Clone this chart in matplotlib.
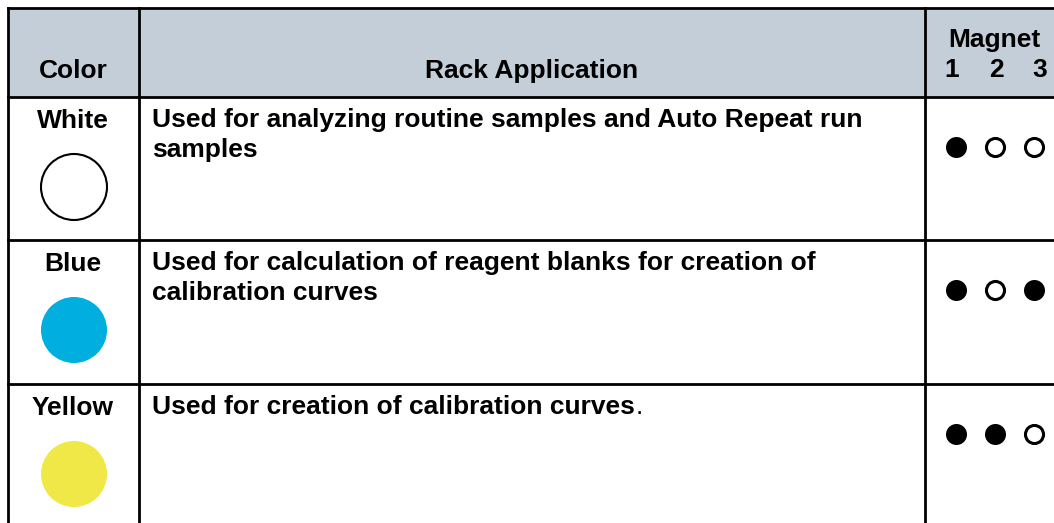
import matplotlib.pyplot as plt
from matplotlib import font_manager
from matplotlib.patches import Circle, Rectangle

W, H = 1054, 523
INK = "#000000"
HEADER_BG = "#C4CED9"

colors = ["White", "Blue", "Yellow"]
swatches = ["#FFFFFF", "#00AEDF", "#F0E846"]
applications = [
    ["Used for analyzing routine samples and Auto Repeat run", "samples"],
    ["Used for calculation of reagent blanks for creation of", "calibration curves"],
    ["Used for creation of calibration curves"],
]
# 1 = filled magnet, 0 = empty
magnets = [[1, 0, 0], [1, 0, 1], [1, 1, 0]]
magnet_labels = ["1", "2", "3"]

FS = 19
bold = font_manager.FontProperties(family=["Liberation Sans", "DejaVu Sans"], weight="bold", size=FS)
regular = font_manager.FontProperties(family=["Liberation Sans", "DejaVu Sans"], weight="normal", size=FS)

fig = plt.figure(figsize=(W / 100, H / 100), dpi=100)
ax = fig.add_axes([0, 0, 1, 1])
ax.set_xlim(0, W)
ax.set_ylim(H, 0)
ax.axis("off")

# grid geometry (pixels)
x_left, x_col1, x_col2, x_right = 8, 139, 925, W + 5
y_top = 8
row_tops = [97, 240, 384]
mag_x = [956, 995, 1034]
label_x = [952, 996, 1040]

ax.add_patch(Rectangle((x_left, y_top), x_right - x_left, row_tops[0] - y_top,
                       facecolor=HEADER_BG, edgecolor="none"))
lw = 2.0
ax.plot([x_left, x_right], [y_top, y_top], color=INK, lw=lw)
for y in row_tops:
    ax.plot([x_left, x_right], [y, y], color=INK, lw=lw)
for x in (x_left, x_col1, x_col2):
    ax.plot([x, x], [y_top, H + 5], color=INK, lw=lw)

ax.text(73, 78, "Color", ha="center", va="baseline", fontproperties=bold)
ax.text(532, 78, "Rack Application", ha="center", va="baseline", fontproperties=bold)
ax.text(994, 47, "Magnet", ha="center", va="baseline", fontproperties=bold)
for x, lab in zip(label_x, magnet_labels):
    ax.text(x, 77, lab, ha="center", va="baseline", fontproperties=bold)

last = None
for i, (name, sw, app, mags) in enumerate(zip(colors, swatches, applications, magnets)):
    top = row_tops[i]
    ax.text(73, top + 31, name, ha="center", va="baseline", fontproperties=bold)
    edge = INK if sw == "#FFFFFF" else "none"
    ax.add_patch(Circle((74, top + 90), 33, facecolor=sw, edgecolor=edge, lw=1.5))
    for k, line in enumerate(app):
        last = ax.text(152, top + 30 + k * 30, line, ha="left", va="baseline",
                       fontproperties=bold)
    for x, m in zip(mag_x, mags):
        if m:
            ax.scatter([x], [top + 50], s=229, marker="o", facecolor=INK,
                       linewidth=0, zorder=3)
        else:
            ax.scatter([x], [top + 50], s=169, marker="o", facecolor="white",
                       edgecolor=INK, linewidth=2.2, zorder=3)

# the closing full stop of the last row is set in regular weight
fig.canvas.draw()
bb = last.get_window_extent()
x_end = ax.transData.inverted().transform((bb.x1, bb.y0))[0]
ax.text(x_end + 1, row_tops[2] + 30, ".", ha="left", va="baseline", fontproperties=regular)

fig.savefig("out.png", dpi=100)
